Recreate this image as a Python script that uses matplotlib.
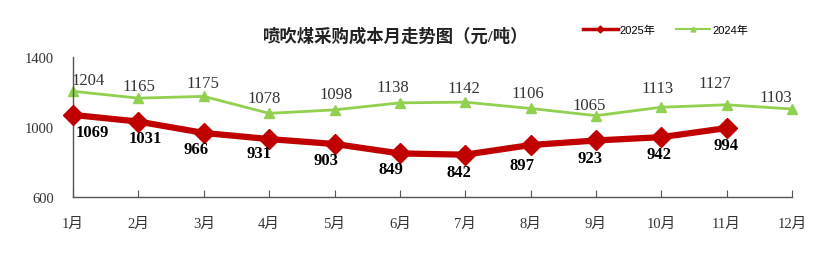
import matplotlib
matplotlib.use("Agg")
import matplotlib.pyplot as plt
from matplotlib.lines import Line2D
from matplotlib.ticker import FixedLocator

plt.rcParams['font.family'] = ['Liberation Serif', 'Noto Sans CJK SC', 'DejaVu Sans']

months = ['1月', '2月', '3月', '4月', '5月', '6月', '7月', '8月', '9月', '10月', '11月', '12月']
cost_2025 = [1069, 1031, 966, 931, 903, 849, 842, 897, 923, 942, 994]
cost_2024 = [1204, 1165, 1175, 1078, 1098, 1138, 1142, 1106, 1065, 1113, 1127, 1103]
yticks = [600, 1000, 1400]

# label nudges in pixels (dx, dy)
off_2025 = [(19, -17), (7, -16), (-8, -16), (-10, -14), (-9, -16), (-9, -16),
            (-6, -17), (-9, -20), (-6, -18), (-2, -17), (-1, -17)]
off_2024 = [(15, 11), (0, 12), (-1, 13), (-5, 15), (2, 16), (-7, 16),
            (-1, 14), (-3, 15), (-7, 11), (-4, 19), (-12, 22), (-16, 12)]

RED = '#C00000'
GREEN = '#92D050'

fig = plt.figure(figsize=(8.31, 2.55), dpi=100)
ax = fig.add_axes([0.088, 0.2235, 0.865, 0.549])

x24 = list(range(1, len(cost_2024) + 1))
x25 = list(range(1, len(cost_2025) + 1))

ax.plot(x24, cost_2024, color=GREEN, lw=2, marker='^', ms=7.5, zorder=2, clip_on=False)
ax.plot(x25, cost_2025, color=RED, lw=4.5, marker='D', ms=10, zorder=3, clip_on=False)

for x, v, (dx, dy) in zip(x24, cost_2024, off_2024):
    ax.annotate(str(v), (x, v), xytext=(dx, dy), textcoords='offset pixels',
                ha='center', va='center', fontsize=12, color='#333333')
for x, v, (dx, dy) in zip(x25, cost_2025, off_2025):
    ax.annotate(str(v), (x, v), xytext=(dx, dy), textcoords='offset pixels',
                ha='center', va='center', fontsize=12, color='black', fontweight='bold')

ax.set_xlim(1, 12)
ax.set_ylim(600, 1400)
ax.set_xticks(x24)
ax.set_xticklabels(months, fontsize=10.5, color='#333333')
ax.set_yticks(yticks)
ax.set_yticklabels([str(t) for t in yticks], fontsize=10.5, color='#333333')
ax.yaxis.set_minor_locator(FixedLocator([1400]))
ax.tick_params(axis='x', direction='in', length=5, color='#555555', pad=14)
ax.tick_params(axis='y', which='major', length=0, pad=14)
ax.tick_params(axis='y', which='minor', direction='in', length=4, color='#555555')
for s in ['top', 'right']:
    ax.spines[s].set_visible(False)
for s in ['left', 'bottom']:
    ax.spines[s].set_color('#555555')
    ax.spines[s].set_linewidth(1)

fig.text(0.476, 0.856, '喷吹煤采购成本月走势图（元/吨）', ha='center', va='center',
         fontsize=12.5, fontweight='bold', color='#222222')

handles = [
    Line2D([0], [0], color=RED, lw=2.5, marker='D', ms=3.5),
    Line2D([0], [0], color=GREEN, lw=1.5, marker='^', ms=3.5),
]
fig.legend(handles, ['2025年', '2024年'], loc='center', bbox_to_anchor=(0.801, 0.878),
           ncol=2, frameon=False, fontsize=8, handlelength=3.1, handletextpad=0.2,
           columnspacing=1.8, prop={'family': ['Liberation Sans', 'Noto Sans CJK SC'], 'size': 8})

fig.savefig('out.png', dpi=100)
